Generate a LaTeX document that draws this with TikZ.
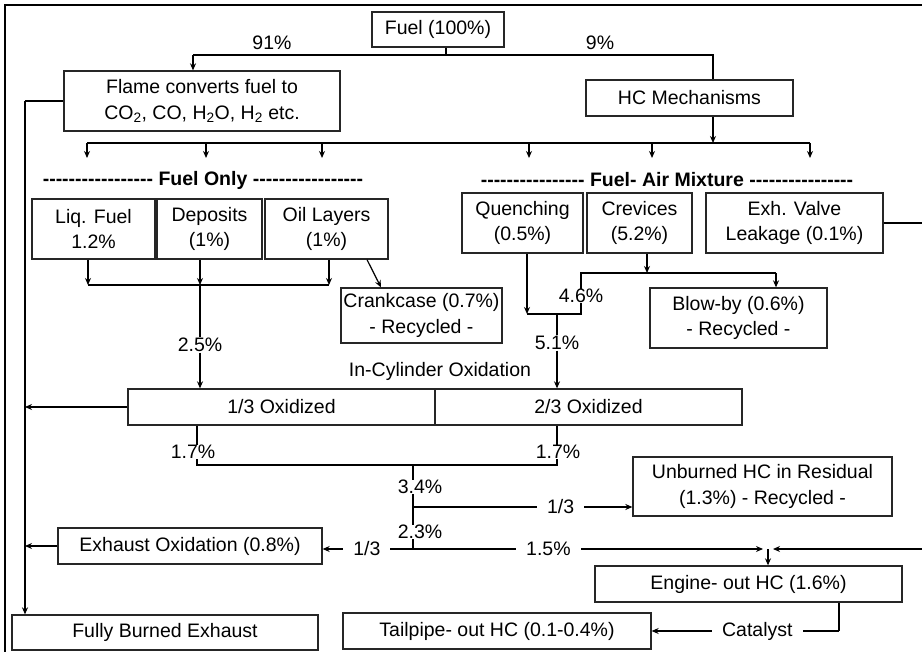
\documentclass[tikz,border=0pt]{standalone}
\usepackage{fontspec}
\setmainfont{Liberation Sans}
\usetikzlibrary{arrows.meta}
\newcommand{\txt}{\fontsize{19.5}{25.5}\selectfont}
\newcommand{\hyph}[1]{\foreach \k in {1,...,#1}{-\kern0pt}}
\newcommand{\flowbox}[6]{\node[box, minimum width=#4pt, minimum height=#5pt] (#1) at (#2,#3) {#6};}
\tikzset{
  box/.style={draw=black!85, line width=1.3pt, inner sep=0pt, align=center, font=\txt},
  lbl/.style={font=\txt, inner sep=0.5pt, fill=white},
  gap/.style={lbl, inner xsep=10pt},
  head/.style={font=\txt\bfseries, inner sep=0pt},
  bus/.style={line width=2.3pt},
  wire/.style={line width=1.2pt},
  tip/.style={-{Stealth[length=7pt,width=6pt]}}
}
\begin{document}
\begin{tikzpicture}[x=1pt, y=-1pt]
    \useasboundingbox (0,0) rectangle (922,652);
    \clip (0,0) rectangle (922,652);
    \draw[line width=1.3pt] (5,660) -- (5,5) -- (930,5);

    % boxes
    \flowbox{fuel}{438}{29.5}{132}{35}{Fuel (100\%)}
    \flowbox{flame}{202}{101}{276}{60}{Flame converts fuel to\\CO\textsubscript{2}, CO, H\textsubscript{2}O, H\textsubscript{2} etc.}
    \flowbox{hcm}{689.5}{98}{207}{36}{HC Mechanisms}
    \flowbox{liq}{93.5}{229}{123}{60}{Liq. Fuel\\1.2\%}
    \flowbox{dep}{209.5}{229}{105}{60}{Deposits\\(1\%)}
    \flowbox{oil}{326.5}{229}{123}{60}{Oil Layers\\(1\%)}
    \flowbox{crank}{421.5}{315.5}{161}{55}{Crankcase (0.7\%)\\- Recycled -}
    \flowbox{quench}{522.5}{223}{121}{60}{Quenching\\(0.5\%)}
    \flowbox{crev}{639.5}{223}{105}{60}{Crevices\\(5.2\%)}
    \flowbox{exh}{794.5}{223}{177}{60}{Exh. Valve\\Leakage (0.1\%)}
    \flowbox{blow}{738.5}{318}{177}{60}{Blow-by (0.6\%)\\- Recycled -}
    \flowbox{oxa}{281.5}{407}{307}{36}{1/3 Oxidized}
    \flowbox{oxb}{588.5}{407}{307}{36}{2/3 Oxidized}
    \flowbox{unb}{762.5}{486.5}{259}{59}{Unburned HC in Residual\\(1.3\%) - Recycled -}
    \flowbox{exo}{190}{546}{264}{36}{Exhaust Oxidation (0.8\%)}
    \flowbox{eng}{748.5}{584}{307}{36}{Engine- out HC (1.6\%)}
    \flowbox{tail}{497}{631}{308}{36}{Tailpipe- out HC (0.1-0.4\%)}
    \flowbox{burn}{165}{632.5}{306}{35}{Fully Burned Exhaust}

    \node[head] (fonly) at (203,180) {\hyph{17} Fuel Only \hyph{17}};
    \node[head] (fair) at (667,180) {\hyph{16} Fuel- Air Mixture \hyph{16}};
    \node[lbl] (p91) at (272,43) {91\%};
    \node[lbl] (p9) at (600,43) {9\%};

    % fuel split
    \coordinate (split) at (446,55);
    \coordinate (s91) at (193,55);
    \coordinate (s9) at (713,55);
    \draw[bus] (fuel.south -| split) -- (split);
    \draw[bus] (s91) -- (s9) -- (s9 |- hcm.north);
    \draw[bus, tip] (s91) -- (s91 |- flame.north);

    % left rail to exhaust
    \coordinate (rail) at (25,101);
    \draw[bus] (flame.west) -- (rail);
    \draw[wire, tip] (rail) -- (rail |- burn.north);
    \draw[wire, tip] (oxa.west) -- (oxa.west -| rail);
    \draw[wire, tip] (exo.west) -- (exo.west -| rail);

    % mechanisms
    \coordinate (hbl) at (87,143);
    \coordinate (hbr) at (810,143);
    \draw[wire, tip] (hcm.south -| s9) -- (s9 |- hbl);
    \draw[bus] (hbl) -- (hbr);
    \foreach \x in {87,206,322,529,652,810} {
        \coordinate (d) at (\x,158);
        \draw[wire, tip] (d |- hbl) -- (d);
    }

    % fuel only
    \coordinate (fa) at (88,285);
    \coordinate (fb) at (200,285);
    \coordinate (fc) at (329,285);
    \draw[wire, tip] (liq.south -| fa) -- (fa);
    \draw[wire, tip] (dep.south -| fb) -- (fb);
    \draw[wire, tip] (oil.south -| fc) -- (fc);
    \draw[bus] (fa) -- (fc);
    \node[lbl] (p25) at (200,345) {2.5\%};
    \draw[bus] (fb) -- (p25.north);
    \draw[wire, tip] (p25.south) -- (p25.south |- oxa.north);
    \draw[wire, tip] ([xshift=40.5pt]oil.south) -- ([xshift=-40.5pt]crank.north);

    % fuel-air mixture
    \coordinate (qj) at (527,314);
    \coordinate (mj) at (557,314);
    \coordinate (cj) at (581,314);
    \coordinate (ct) at (581,273);
    \coordinate (bt) at (776,273);
    \coordinate (cv) at (647,273);
    \draw[wire, tip] (quench.south -| qj) -- (qj);
    \draw[wire, tip] (crev.south -| cv) -- (cv);
    \draw[bus] (qj) -- (cj) -- (ct) -- (bt);
    \draw[wire, tip] (bt) -- (bt |- blow.north);
    \node[lbl] (p46) at (581,296) {4.6\%};
    \node[lbl] (p51) at (557,343) {5.1\%};
    \draw[bus] (mj) -- (p51.north);
    \draw[wire, tip] (p51.south) -- (p51.south |- oxb.north);
    \node[lbl] (incyl) at (440,371) {In-Cylinder Oxidation};

    % after oxidation
    \coordinate (la) at (197,465);
    \coordinate (ra) at (557,465);
    \coordinate (m1) at (413,465);
    \coordinate (m2) at (413,507);
    \coordinate (m3) at (413,549);
    \coordinate (ej) at (768,549);
    \coordinate (far) at (940,549);
    \draw[bus] (oxa.south -| la) -- (la) -- (ra) -- (oxb.south -| ra);
    \draw[bus] (m1) -- (m3);
    \node[lbl] (p17a) at (193,452) {1.7\%};
    \node[lbl] (p17b) at (558,452) {1.7\%};
    \node[lbl] (p34) at (420,487) {3.4\%};
    \node[lbl] (p23) at (420,532) {2.3\%};
    \draw[wire, tip] (m2) -- (m2 -| unb.west) node[gap, pos=0.673] (r13) {1/3};
    \draw[wire, tip] (m3) -- (m3 -| exo.east) node[gap, pos=0.511] (x13) {1/3};
    \draw[wire, tip] (m3) -- ([xshift=-5pt]ej) node[gap, pos=0.387] (p15) {1.5\%};
    \draw[bus] (exh.east) -- (exh.east -| far);
    \draw[wire] (exh.east -| far) -- (far);
    \draw[wire, tip] (far) -- ([xshift=5pt]ej);
    \draw[wire, tip] (ej) -- (ej |- eng.north);

    % catalyst
    \coordinate (cat) at (839,631);
    \draw[bus] (eng.south -| cat) -- (cat);
    \draw[wire, tip] (cat) -- (cat -| tail.east) node[gap, pos=0.436] (catl) {Catalyst};
\end{tikzpicture}
\end{document}
